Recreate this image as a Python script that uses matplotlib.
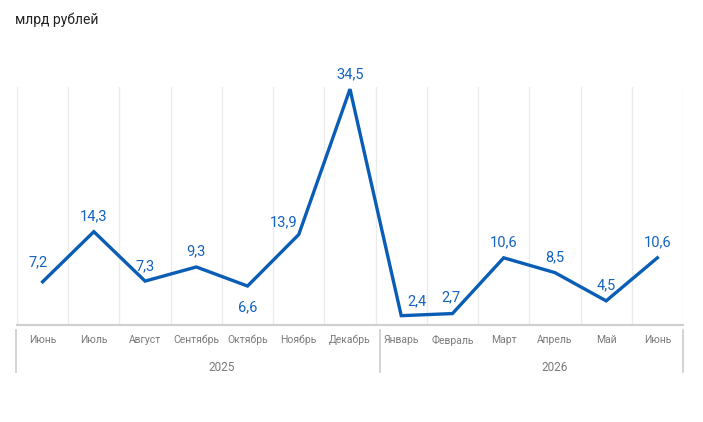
import numpy as np
import matplotlib.pyplot as plt
import matplotlib.transforms as mtransforms

plt.rcParams['font.family'] = ['Roboto', 'DejaVu Sans']

months = ['Июнь', 'Июль', 'Август', 'Сентябрь', 'Октябрь', 'Ноябрь', 'Декабрь',
          'Январь', 'Февраль', 'Март', 'Апрель', 'Май', 'Июнь']
values = [7.2, 14.3, 7.3, 9.3, 6.6, 13.9, 34.5, 2.4, 2.7, 10.6, 8.5, 4.5, 10.6]
years = ['2025', '2026']
year_pos = [3.5, 10.0]
separators = [-0.52, 6.58, 12.5]

# label offsets in points (dx, dy)
offsets = [(-3, 14), (0, 11), (0, 11), (0, 11), (0, -15), (-11, 9), (0, 11),
           (11, 10.5), (-1, 12), (0, 11), (0, 11), (0, 11), (0, 11)]

blue = '#0a5db5'
lblue = '#1463c0'

fig = plt.figure(figsize=(7.03, 4.22), dpi=100)
ax = fig.add_axes([17 / 703, 97 / 422, 666 / 703, 238 / 422])

x = np.arange(len(values))
ax.plot(x, values, color=blue, lw=2.4, solid_joinstyle='miter', zorder=3)

for i, v in enumerate(values):
    dx, dy = offsets[i]
    ax.annotate(f'{v}'.replace('.', ','), (i, v), xytext=(dx, dy),
                textcoords='offset points', ha='center', va='center',
                fontsize=10.5, color=lblue)

ax.set_xlim(-0.5, len(values) - 0.5)
ax.set_ylim(1.08, 34.8)

for b in np.arange(-0.5, len(values), 1.0):
    ax.axvline(b, color='#ebebeb', lw=1, zorder=0)

for s in ['top', 'left', 'right']:
    ax.spines[s].set_visible(False)
ax.spines['bottom'].set_color('#cfcfcf')
ax.spines['bottom'].set_linewidth(1.5)

ax.set_yticks([])
ax.set_xticks(x)
ax.set_xticklabels(months, fontsize=7.5, color='#7a7a7a')
ax.tick_params(axis='x', length=0, pad=7)

trans = mtransforms.blended_transform_factory(ax.transData, ax.transAxes)
for b in separators:
    ax.plot([b, b], [-0.021, -0.197], transform=trans, color='#cccccc',
            lw=1.2, clip_on=False)
for xp, yr in zip(year_pos, years):
    ax.text(xp, -0.18, yr, transform=trans, ha='center', va='center',
            fontsize=8.5, color='#7a7a7a')

fig.text(15 / 703, 1 - 20 / 422, 'млрд рублей', fontsize=10, color='#222222',
         va='center', ha='left')

fig.savefig('out.png', dpi=100)
